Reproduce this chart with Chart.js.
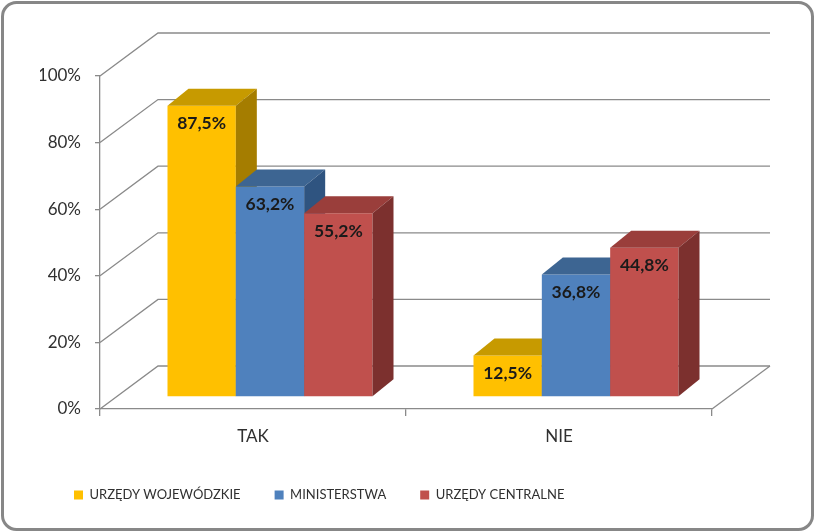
<!DOCTYPE html>
<html><head><meta charset="utf-8">
<script src="https://cdn.jsdelivr.net/npm/chart.js@4/dist/chart.umd.min.js"></script>
<style>html,body{margin:0;padding:0;background:#fff;}#wrap{width:815px;height:532px;}</style>
</head><body><div id="wrap"><canvas id="c" width="815" height="532"></canvas></div>
<script>
// ---- data ----
const categories = ['TAK', 'NIE'];
const seriesNames = ['URZĘDY WOJEWÓDZKIE', 'MINISTERSTWA', 'URZĘDY CENTRALNE'];
const urzedyWojewodzkie = [87.5, 12.5];
const ministerstwa = [63.2, 36.8];
const urzedyCentralne = [55.2, 44.8];
const yTickValues = [0, 20, 40, 60, 80, 100];

// ---- styles ----
const frontColors = ['#FFC000', '#4F81BD', '#C0504D'];
const topColors = ['#C79A00', '#3D6592', '#9A3E3B'];
const sideColors = ['#A57D00', '#2F5480', '#7C302E'];
const LINE = '#8a8a8a';
const TEXT = '#303030';
const WALL_DX = 58, WALL_DY = -43;
const BAR_DX = 17, BAR_DY = -12;
const DEPTH_DX = 21, DEPTH_DY = -17;

Chart.defaults.font.family = 'Lato';

function roundRect(ctx, x, y, w, h, r) {
  ctx.beginPath();
  ctx.moveTo(x + r, y);
  ctx.lineTo(x + w - r, y);
  ctx.arcTo(x + w, y, x + w, y + r, r);
  ctx.lineTo(x + w, y + h - r);
  ctx.arcTo(x + w, y + h, x + w - r, y + h, r);
  ctx.lineTo(x + r, y + h);
  ctx.arcTo(x, y + h, x, y + h - r, r);
  ctx.lineTo(x, y + r);
  ctx.arcTo(x, y, x + r, y, r);
  ctx.closePath();
}

const frame3d = {
  id: 'frame3d',
  beforeDraw(chart) {
    const ctx = chart.ctx, a = chart.chartArea, ys = chart.scales.y;
    ctx.save();
    ctx.fillStyle = '#fff';
    ctx.fillRect(0, 0, chart.width, chart.height);
    ctx.lineWidth = 3;
    ctx.strokeStyle = '#878787';
    roundRect(ctx, 2.5, 2.5, chart.width - 5, chart.height - 5, 14);
    ctx.stroke();
    ctx.strokeStyle = LINE;
    ctx.lineWidth = 1.3;
    ys.ticks.forEach(t => {
      const py = ys.getPixelForValue(t.value);
      ctx.beginPath();
      ctx.moveTo(a.left, py);
      ctx.lineTo(a.left + WALL_DX, py + WALL_DY);
      ctx.lineTo(a.right + WALL_DX, py + WALL_DY);
      ctx.stroke();
    });
    const p0 = ys.getPixelForValue(0);
    ctx.beginPath();
    ctx.moveTo(a.right, p0);
    ctx.lineTo(a.right + WALL_DX, p0 + WALL_DY);
    ctx.stroke();
    ctx.restore();
  },
  beforeDatasetsDraw(chart) {
    const ctx = chart.ctx;
    ctx.save();
    ctx.translate(BAR_DX, BAR_DY);
    const labels = [];
    for (let i = 0; i < categories.length; i++) {
      chart.data.datasets.forEach((ds, d) => {
        const el = chart.getDatasetMeta(d).data[i];
        const p = el.getProps(['x', 'y', 'base', 'width'], true);
        const l = p.x - p.width / 2, r = p.x + p.width / 2;
        el.draw(ctx);
        ctx.fillStyle = topColors[d];
        ctx.beginPath();
        ctx.moveTo(l, p.y);
        ctx.lineTo(l + DEPTH_DX, p.y + DEPTH_DY);
        ctx.lineTo(r + DEPTH_DX, p.y + DEPTH_DY);
        ctx.lineTo(r, p.y);
        ctx.closePath();
        ctx.fill();
        ctx.fillStyle = sideColors[d];
        ctx.beginPath();
        ctx.moveTo(r, p.y);
        ctx.lineTo(r + DEPTH_DX, p.y + DEPTH_DY);
        ctx.lineTo(r + DEPTH_DX, p.base + DEPTH_DY);
        ctx.lineTo(r, p.base);
        ctx.closePath();
        ctx.fill();
        labels.push({x: p.x, y: p.y, v: ds.data[i]});
      });
    }
    ctx.fillStyle = '#1a1a1a';
    ctx.font = 'bold 17.5px Lato';
    ctx.textAlign = 'center';
    ctx.textBaseline = 'middle';
    labels.forEach(o => {
      ctx.fillText(o.v.toFixed(1).replace('.', ',') + '%', o.x, o.y + 18);
    });
    ctx.restore();
    return false;
  }
};

new Chart(document.getElementById('c'), {
  type: 'bar',
  data: {
    labels: categories,
    datasets: [
      {label: seriesNames[0], data: urzedyWojewodzkie, backgroundColor: frontColors[0]},
      {label: seriesNames[1], data: ministerstwa, backgroundColor: frontColors[1]},
      {label: seriesNames[2], data: urzedyCentralne, backgroundColor: frontColors[2]}
    ]
  },
  options: {
    responsive: false,
    animation: false,
    devicePixelRatio: 1,
    layout: {padding: {left: 40, right: 103, top: 76, bottom: 20.5}},
    datasets: {bar: {categoryPercentage: 0.67, barPercentage: 1, borderWidth: 0}},
    plugins: {
      tooltip: {enabled: false},
      legend: {
        position: 'bottom',
        align: 'start',
        labels: {boxWidth: 9, boxHeight: 9, padding: 34, color: TEXT, font: {size: 13}}
      }
    },
    scales: {
      x: {
        afterFit(s) { s.height = 45.5; },
        grid: {drawOnChartArea: false, tickLength: 7, offset: true, color: LINE, lineWidth: 1.3},
        border: {display: true, color: LINE, width: 1.3},
        ticks: {color: TEXT, font: {size: 17}, padding: 10}
      },
      y: {
        min: 0, max: 100,
        afterFit(s) { s.width = 60; },
        afterBuildTicks(s) { s.ticks = yTickValues.map(v => ({value: v})); },
        grid: {drawOnChartArea: false, tickLength: 5, color: LINE, lineWidth: 1.3},
        border: {display: true, color: LINE, width: 1.3},
        ticks: {color: TEXT, font: {size: 17}, padding: 14, callback: v => v + '%'}
      }
    }
  },
  plugins: [frame3d]
});
</script>
</body></html>
